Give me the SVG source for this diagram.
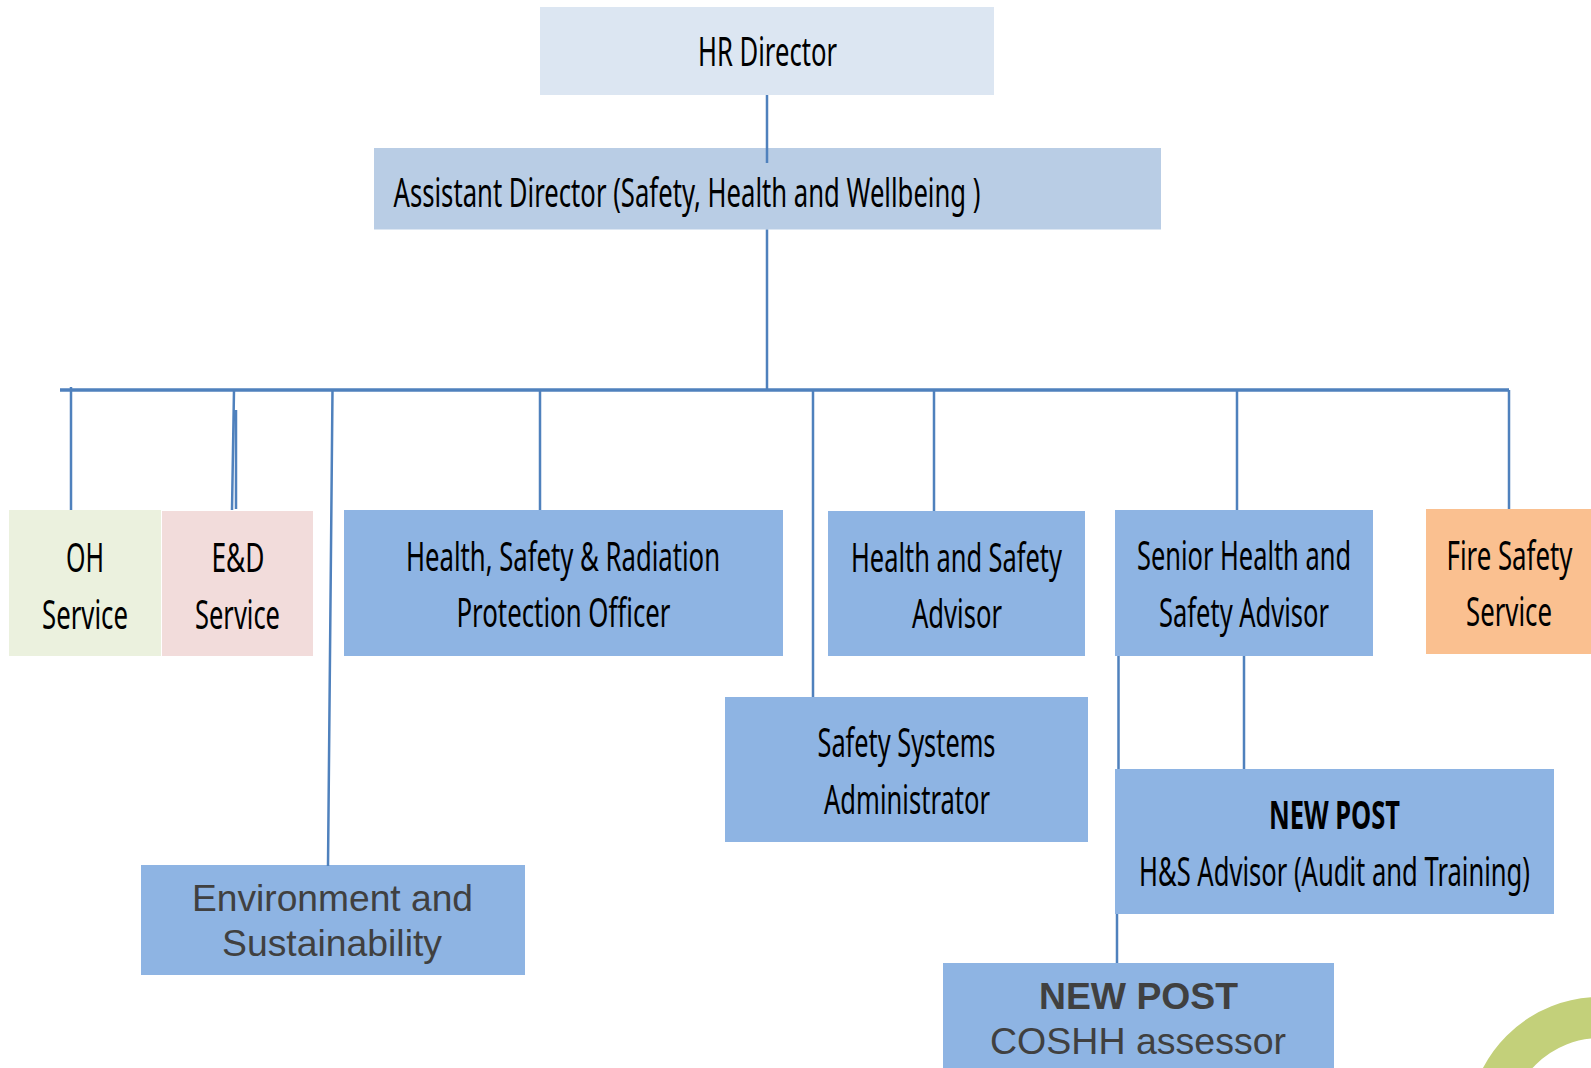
<svg xmlns="http://www.w3.org/2000/svg" width="1591" height="1068" viewBox="0 0 1591 1068">
<style>
text{font-family:"Noto Sans","Open Sans",sans-serif;font-size:39.5px;fill:#000;text-anchor:start}
.a{font-family:"Liberation Sans",Arial,sans-serif;font-size:37px;fill:#404040}
.b{font-weight:700}
.blue{fill:#8eb4e3}
.c{stroke:#4f81bd;stroke-width:2.5;fill:none}
</style>
<rect width="1591" height="1068" fill="#fff"/>
<g id="node-hr-director"><rect x="540" y="7" width="454" height="88" fill="#dce6f2"/><text x="698" y="66" textLength="139" lengthAdjust="spacingAndGlyphs">HR Director</text></g>
<g id="node-assistant-director"><rect x="374" y="148" width="787" height="81.500" fill="#b9cde5"/><text x="393.500" y="207" textLength="587" lengthAdjust="spacingAndGlyphs">Assistant Director (Safety, Health and Wellbeing )</text></g>
<g id="node-oh"><rect x="9" y="510" width="152" height="146" fill="#ebf1de"/><text x="66" y="571.500" textLength="38" lengthAdjust="spacingAndGlyphs">OH</text><text x="42" y="628.500" textLength="86" lengthAdjust="spacingAndGlyphs">Service</text></g>
<g id="node-ed"><rect x="162" y="511" width="151" height="145" fill="#f2dcdb"/><text x="211.500" y="571.500" textLength="53" lengthAdjust="spacingAndGlyphs">E&amp;D</text><text x="195" y="628.500" textLength="85" lengthAdjust="spacingAndGlyphs">Service</text></g>
<g id="node-hsrpo"><rect class="blue" x="344" y="510" width="439" height="146"/><text x="406" y="570.500" textLength="314" lengthAdjust="spacingAndGlyphs">Health, Safety &amp; Radiation</text><text x="456.500" y="627" textLength="214" lengthAdjust="spacingAndGlyphs">Protection Officer</text></g>
<g id="node-hs-advisor"><rect class="blue" x="828" y="511" width="257" height="145"/><text x="851" y="571.500" textLength="211" lengthAdjust="spacingAndGlyphs">Health and Safety</text><text x="912" y="628" textLength="90" lengthAdjust="spacingAndGlyphs">Advisor</text></g>
<g id="node-senior"><rect class="blue" x="1115" y="510" width="258" height="146"/><text x="1137" y="570" textLength="214" lengthAdjust="spacingAndGlyphs">Senior Health and</text><text x="1159" y="627" textLength="170" lengthAdjust="spacingAndGlyphs">Safety Advisor</text></g>
<g id="node-fire"><rect x="1426" y="509" width="165" height="145" fill="#fac090"/><text x="1446.500" y="570" textLength="126" lengthAdjust="spacingAndGlyphs">Fire Safety</text><text x="1466" y="626" textLength="86" lengthAdjust="spacingAndGlyphs">Service</text></g>
<g id="node-systems"><rect class="blue" x="725" y="697" width="363" height="145"/><text x="817.500" y="757" textLength="178" lengthAdjust="spacingAndGlyphs">Safety Systems</text><text x="824" y="814" textLength="166" lengthAdjust="spacingAndGlyphs">Administrator</text></g>
<g id="node-new-post-hs"><rect class="blue" x="1115" y="769" width="439" height="145"/><text class="b" x="1269" y="829" textLength="131" lengthAdjust="spacingAndGlyphs">NEW POST</text><text x="1139" y="886" textLength="391" lengthAdjust="spacingAndGlyphs">H&amp;S Advisor (Audit and Training)</text></g>
<g id="node-environment"><rect class="blue" x="141" y="865" width="384" height="110"/><text class="a" x="192" y="911" textLength="281" lengthAdjust="spacingAndGlyphs">Environment and</text><text class="a" x="222" y="956" textLength="220" lengthAdjust="spacingAndGlyphs">Sustainability</text></g>
<g id="node-coshh"><rect class="blue" x="943" y="963" width="391" height="105"/><text class="a b" x="1039" y="1009" textLength="199" lengthAdjust="spacingAndGlyphs">NEW POST</text><text class="a" x="990" y="1054" textLength="296" lengthAdjust="spacingAndGlyphs">COSHH assessor</text></g>
<g id="connectors">
<path class="c" d="M767 95V163M767 229.500V390M71 387V510M234 390L232 510M236 410V509M332.500 390L328 866M540 390V510M813 390V697M934 390V511M1237 390V510M1509 390V509M1244 656V769M1118.500 656V769M1117 914V963"/>
<path class="c" style="stroke-width:3.500" d="M60 390H1509"/>
</g>
<circle id="logo-arc" cx="1600" cy="1129" r="111.5" fill="none" stroke="#c3d07a" stroke-width="41"/>
</svg>
